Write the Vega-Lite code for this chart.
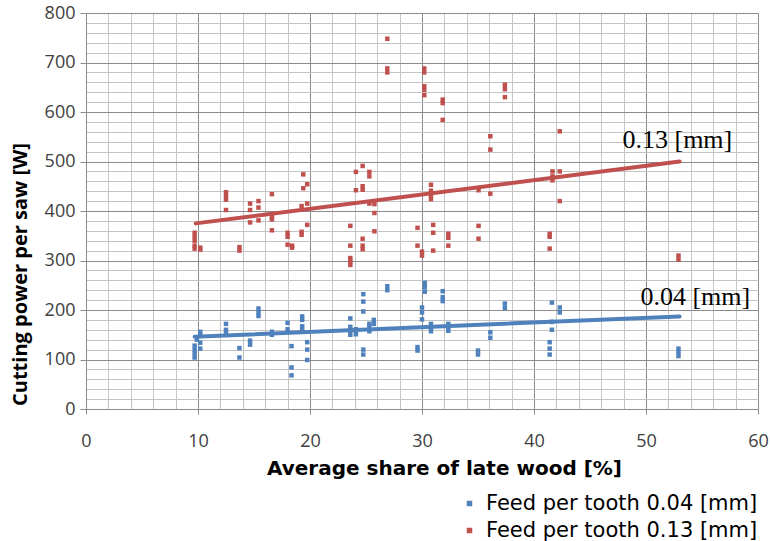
{
  "$schema": "https://vega.github.io/schema/vega-lite/v6.json",
  "autosize": {"type": "none"},
  "width": 672,
  "height": 396,
  "padding": {"left": 86, "top": 13, "right": 12, "bottom": 132},
  "background": "white",
  "config": {
    "view": {"stroke": null},
    "font": "Open Sans"
  },
  "datasets": {
    "pts": [
      {"x":9.7,"y":356,"feed":"0.13"},{"x":9.7,"y":348,"feed":"0.13"},{"x":9.7,"y":340,"feed":"0.13"},{"x":9.7,"y":330,"feed":"0.13"},{"x":9.7,"y":324,"feed":"0.13"},
      {"x":10.2,"y":326,"feed":"0.13"},{"x":10.2,"y":322,"feed":"0.13"},
      {"x":12.5,"y":438,"feed":"0.13"},{"x":12.5,"y":430,"feed":"0.13"},{"x":12.5,"y":423,"feed":"0.13"},{"x":12.5,"y":402,"feed":"0.13"},
      {"x":13.7,"y":327,"feed":"0.13"},{"x":13.7,"y":320,"feed":"0.13"},
      {"x":14.65,"y":415,"feed":"0.13"},{"x":14.65,"y":402,"feed":"0.13"},{"x":14.65,"y":377,"feed":"0.13"},
      {"x":15.4,"y":420,"feed":"0.13"},{"x":15.4,"y":407,"feed":"0.13"},{"x":15.4,"y":381,"feed":"0.13"},
      {"x":16.6,"y":434,"feed":"0.13"},{"x":16.6,"y":388,"feed":"0.13"},{"x":16.6,"y":383,"feed":"0.13"},{"x":16.6,"y":361,"feed":"0.13"},
      {"x":18.0,"y":356,"feed":"0.13"},{"x":18.0,"y":348,"feed":"0.13"},{"x":18.0,"y":332,"feed":"0.13"},
      {"x":18.4,"y":330,"feed":"0.13"},{"x":18.4,"y":326,"feed":"0.13"},
      {"x":19.25,"y":358,"feed":"0.13"},{"x":19.25,"y":352,"feed":"0.13"},{"x":19.25,"y":410,"feed":"0.13"},
      {"x":19.4,"y":474,"feed":"0.13"},{"x":19.4,"y":446,"feed":"0.13"},
      {"x":19.75,"y":454,"feed":"0.13"},{"x":19.75,"y":415,"feed":"0.13"},{"x":19.75,"y":372,"feed":"0.13"},
      {"x":23.6,"y":370,"feed":"0.13"},{"x":23.6,"y":330,"feed":"0.13"},{"x":23.6,"y":305,"feed":"0.13"},{"x":23.6,"y":298,"feed":"0.13"},{"x":23.6,"y":291,"feed":"0.13"},
      {"x":24.1,"y":479,"feed":"0.13"},{"x":24.1,"y":442,"feed":"0.13"},
      {"x":24.7,"y":491,"feed":"0.13"},{"x":24.7,"y":450,"feed":"0.13"},{"x":24.7,"y":443,"feed":"0.13"},{"x":24.7,"y":344,"feed":"0.13"},{"x":24.7,"y":330,"feed":"0.13"},{"x":24.7,"y":323,"feed":"0.13"},
      {"x":25.3,"y":479,"feed":"0.13"},{"x":25.3,"y":470,"feed":"0.13"},{"x":25.3,"y":415,"feed":"0.13"},
      {"x":25.75,"y":414,"feed":"0.13"},{"x":25.75,"y":396,"feed":"0.13"},{"x":25.75,"y":359,"feed":"0.13"},
      {"x":26.9,"y":748,"feed":"0.13"},{"x":26.9,"y":688,"feed":"0.13"},{"x":26.9,"y":680,"feed":"0.13"},
      {"x":29.6,"y":366,"feed":"0.13"},{"x":29.6,"y":330,"feed":"0.13"},
      {"x":30.0,"y":318,"feed":"0.13"},{"x":30.0,"y":310,"feed":"0.13"},
      {"x":30.2,"y":688,"feed":"0.13"},{"x":30.2,"y":680,"feed":"0.13"},{"x":30.2,"y":652,"feed":"0.13"},{"x":30.2,"y":645,"feed":"0.13"},{"x":30.2,"y":634,"feed":"0.13"},
      {"x":30.8,"y":453,"feed":"0.13"},{"x":30.8,"y":441,"feed":"0.13"},{"x":30.8,"y":432,"feed":"0.13"},{"x":30.8,"y":424,"feed":"0.13"},
      {"x":31.0,"y":372,"feed":"0.13"},{"x":31.0,"y":356,"feed":"0.13"},{"x":31.0,"y":320,"feed":"0.13"},
      {"x":31.85,"y":625,"feed":"0.13"},{"x":31.85,"y":618,"feed":"0.13"},{"x":31.85,"y":584,"feed":"0.13"},
      {"x":32.35,"y":354,"feed":"0.13"},{"x":32.35,"y":346,"feed":"0.13"},{"x":32.35,"y":330,"feed":"0.13"},
      {"x":35.05,"y":442,"feed":"0.13"},{"x":35.05,"y":370,"feed":"0.13"},{"x":35.05,"y":344,"feed":"0.13"},
      {"x":36.1,"y":551,"feed":"0.13"},{"x":36.1,"y":524,"feed":"0.13"},{"x":36.1,"y":435,"feed":"0.13"},
      {"x":37.4,"y":655,"feed":"0.13"},{"x":37.4,"y":646,"feed":"0.13"},{"x":37.4,"y":630,"feed":"0.13"},
      {"x":41.4,"y":354,"feed":"0.13"},{"x":41.4,"y":348,"feed":"0.13"},{"x":41.4,"y":324,"feed":"0.13"},
      {"x":41.65,"y":480,"feed":"0.13"},{"x":41.65,"y":470,"feed":"0.13"},{"x":41.65,"y":462,"feed":"0.13"},
      {"x":42.3,"y":561,"feed":"0.13"},{"x":42.3,"y":480,"feed":"0.13"},{"x":42.3,"y":420,"feed":"0.13"},
      {"x":52.9,"y":310,"feed":"0.13"},{"x":52.9,"y":302,"feed":"0.13"},

      {"x":9.7,"y":128,"feed":"0.04"},{"x":9.7,"y":120,"feed":"0.04"},{"x":9.7,"y":112,"feed":"0.04"},{"x":9.7,"y":104,"feed":"0.04"},
      {"x":9.9,"y":140,"feed":"0.04"},
      {"x":10.2,"y":156,"feed":"0.04"},{"x":10.2,"y":150,"feed":"0.04"},{"x":10.2,"y":134,"feed":"0.04"},{"x":10.2,"y":122,"feed":"0.04"},
      {"x":12.5,"y":172,"feed":"0.04"},{"x":12.5,"y":160,"feed":"0.04"},{"x":12.5,"y":152,"feed":"0.04"},
      {"x":13.7,"y":123,"feed":"0.04"},{"x":13.7,"y":104,"feed":"0.04"},
      {"x":14.65,"y":138,"feed":"0.04"},{"x":14.65,"y":130,"feed":"0.04"},
      {"x":15.4,"y":203,"feed":"0.04"},{"x":15.4,"y":196,"feed":"0.04"},{"x":15.4,"y":188,"feed":"0.04"},
      {"x":16.6,"y":156,"feed":"0.04"},{"x":16.6,"y":150,"feed":"0.04"},
      {"x":18.0,"y":174,"feed":"0.04"},{"x":18.0,"y":161,"feed":"0.04"},
      {"x":18.35,"y":127,"feed":"0.04"},{"x":18.35,"y":84,"feed":"0.04"},{"x":18.35,"y":68,"feed":"0.04"},
      {"x":19.3,"y":187,"feed":"0.04"},{"x":19.3,"y":180,"feed":"0.04"},{"x":19.3,"y":167,"feed":"0.04"},{"x":19.3,"y":160,"feed":"0.04"},
      {"x":19.75,"y":135,"feed":"0.04"},{"x":19.75,"y":120,"feed":"0.04"},{"x":19.75,"y":99,"feed":"0.04"},
      {"x":23.6,"y":183,"feed":"0.04"},{"x":23.6,"y":166,"feed":"0.04"},{"x":23.6,"y":158,"feed":"0.04"},{"x":23.6,"y":150,"feed":"0.04"},
      {"x":24.1,"y":161,"feed":"0.04"},{"x":24.1,"y":151,"feed":"0.04"},
      {"x":24.76,"y":232,"feed":"0.04"},{"x":24.76,"y":217,"feed":"0.04"},{"x":24.76,"y":197,"feed":"0.04"},{"x":24.76,"y":120,"feed":"0.04"},{"x":24.76,"y":110,"feed":"0.04"},
      {"x":25.3,"y":172,"feed":"0.04"},{"x":25.3,"y":165,"feed":"0.04"},{"x":25.3,"y":157,"feed":"0.04"},
      {"x":25.7,"y":180,"feed":"0.04"},{"x":25.7,"y":172,"feed":"0.04"},
      {"x":26.9,"y":248,"feed":"0.04"},{"x":26.9,"y":240,"feed":"0.04"},
      {"x":29.6,"y":125,"feed":"0.04"},{"x":29.6,"y":118,"feed":"0.04"},
      {"x":30.0,"y":205,"feed":"0.04"},{"x":30.0,"y":195,"feed":"0.04"},{"x":30.0,"y":181,"feed":"0.04"},
      {"x":30.25,"y":255,"feed":"0.04"},{"x":30.25,"y":246,"feed":"0.04"},{"x":30.25,"y":237,"feed":"0.04"},
      {"x":30.8,"y":172,"feed":"0.04"},{"x":30.8,"y":164,"feed":"0.04"},{"x":30.8,"y":157,"feed":"0.04"},
      {"x":31.85,"y":238,"feed":"0.04"},{"x":31.85,"y":226,"feed":"0.04"},{"x":31.85,"y":218,"feed":"0.04"},
      {"x":32.35,"y":172,"feed":"0.04"},{"x":32.35,"y":165,"feed":"0.04"},{"x":32.35,"y":158,"feed":"0.04"},
      {"x":35.0,"y":118,"feed":"0.04"},{"x":35.0,"y":110,"feed":"0.04"},
      {"x":36.1,"y":155,"feed":"0.04"},{"x":36.1,"y":144,"feed":"0.04"},
      {"x":37.4,"y":213,"feed":"0.04"},{"x":37.4,"y":204,"feed":"0.04"},
      {"x":41.4,"y":135,"feed":"0.04"},{"x":41.4,"y":122,"feed":"0.04"},{"x":41.4,"y":110,"feed":"0.04"},
      {"x":41.6,"y":215,"feed":"0.04"},{"x":41.6,"y":176,"feed":"0.04"},{"x":41.6,"y":160,"feed":"0.04"},
      {"x":42.3,"y":205,"feed":"0.04"},{"x":42.3,"y":195,"feed":"0.04"},
      {"x":52.9,"y":122,"feed":"0.04"},{"x":52.9,"y":115,"feed":"0.04"},{"x":52.9,"y":107,"feed":"0.04"}
    ],
    "trend": [
      {"x":9.8,"y":375,"feed":"0.13"},{"x":53,"y":500,"feed":"0.13"},
      {"x":9.7,"y":146,"feed":"0.04"},{"x":53,"y":187,"feed":"0.04"}
    ],
    "notes": [
      {"x":47.9,"y":544,"text":"0.13 [mm]"},
      {"x":49.5,"y":226,"text":"0.04 [mm]"}
    ]
  },
  "layer": [
    {
      "data": {"name": "pts"},
      "mark": {"type": "point", "shape": "square", "filled": true, "size": 20, "opacity": 1},
      "encoding": {
        "x": {
          "field": "x", "type": "quantitative",
          "scale": {"domain": [0, 60], "nice": false},
          "axis": {
            "values": [0,2,4,6,8,10,12,14,16,18,20,22,24,26,28,30,32,34,36,38,40,42,44,46,48,50,52,54,56,58,60],
            "tickCount": 200,
            "format": "d",
            "labelExpr": "datum.value % 10 === 0 ? datum.label : ''",
            "labelOverlap": false,
            "labelBound": false,
            "labelFlush": false,
            "grid": true,
            "gridColor": {"condition": {"test": "datum.value % 10 === 0", "value": "#8c8c8c"}, "value": "#c4c4c4"},
            "gridWidth": 1,
            "domainColor": "#8c8c8c",
            "tickColor": "#8c8c8c",
            "tickOpacity": {"condition": {"test": "datum.value % 10 === 0", "value": 1}, "value": 0},
            "tickSize": 5,
            "labelFont": "Open Sans",
            "labelFontSize": 18,
            "labelColor": "#404040",
            "labelPadding": 18,
            "title": "Average share of late wood [%]",
            "titleFont": "DejaVu Sans",
            "titleFontSize": 20,
            "titleFontWeight": "bold",
            "titleColor": "#000000",
            "titlePadding": 8,
            "titleX": 358,
            "titleAnchor": "middle",
            "titleAlign": "center"
          }
        },
        "y": {
          "field": "y", "type": "quantitative",
          "scale": {"domain": [0, 800], "nice": false},
          "axis": {
            "values": [0,20,40,60,80,100,120,140,160,180,200,220,240,260,280,300,320,340,360,380,400,420,440,460,480,500,520,540,560,580,600,620,640,660,680,700,720,740,760,780,800],
            "tickCount": 200,
            "format": "d",
            "labelExpr": "datum.value % 100 === 0 ? datum.label : ''",
            "labelOverlap": false,
            "labelBound": false,
            "labelFlush": false,
            "grid": true,
            "gridColor": {"condition": {"test": "datum.value % 100 === 0", "value": "#8c8c8c"}, "value": "#c4c4c4"},
            "gridWidth": 1,
            "domainColor": "#8c8c8c",
            "tickColor": "#8c8c8c",
            "tickOpacity": {"condition": {"test": "datum.value % 100 === 0", "value": 1}, "value": 0},
            "tickSize": 6,
            "labelFont": "Open Sans",
            "labelFontSize": 18,
            "labelColor": "#404040",
            "labelPadding": 5,
            "title": "Cutting power per saw [W]",
            "titleFont": "Open Sans",
            "titleFontSize": 20,
            "titleFontWeight": "bold",
            "titleColor": "#000000",
            "titleX": -66,
            "titleY": 261,
            "titleAlign": "center",
            "titleBaseline": "middle",
            "titleAngle": -90
          }
        },
        "color": {
          "field": "feed", "type": "nominal",
          "scale": {"domain": ["0.04", "0.13"], "range": ["#4f81bd", "#c0504d"]},
          "legend": {
            "title": null,
            "orient": "none",
            "legendX": 373,
            "legendY": 480,
            "labelExpr": "'Feed per tooth ' + datum.label + ' [mm]'",
            "labelFont": "DejaVu Sans",
            "labelFontSize": 21,
            "labelLimit": 400,
            "labelColor": "#000000",
            "symbolType": "square",
            "symbolSize": 16,
            "rowPadding": 5,
            "labelOffset": 6
          }
        }
      }
    },
    {
      "data": {"name": "trend"},
      "mark": {"type": "line", "strokeWidth": 4, "strokeCap": "round"},
      "encoding": {
        "x": {"field": "x", "type": "quantitative"},
        "y": {"field": "y", "type": "quantitative"},
        "detail": {"field": "feed"},
        "color": {"field": "feed", "type": "nominal"}
      }
    },
    {
      "data": {"name": "notes"},
      "mark": {"type": "text", "align": "left", "baseline": "middle", "font": "Liberation Serif", "fontSize": 26, "color": "#000000"},
      "encoding": {
        "x": {"field": "x", "type": "quantitative"},
        "y": {"field": "y", "type": "quantitative"},
        "text": {"field": "text"}
      }
    }
  ]
}
